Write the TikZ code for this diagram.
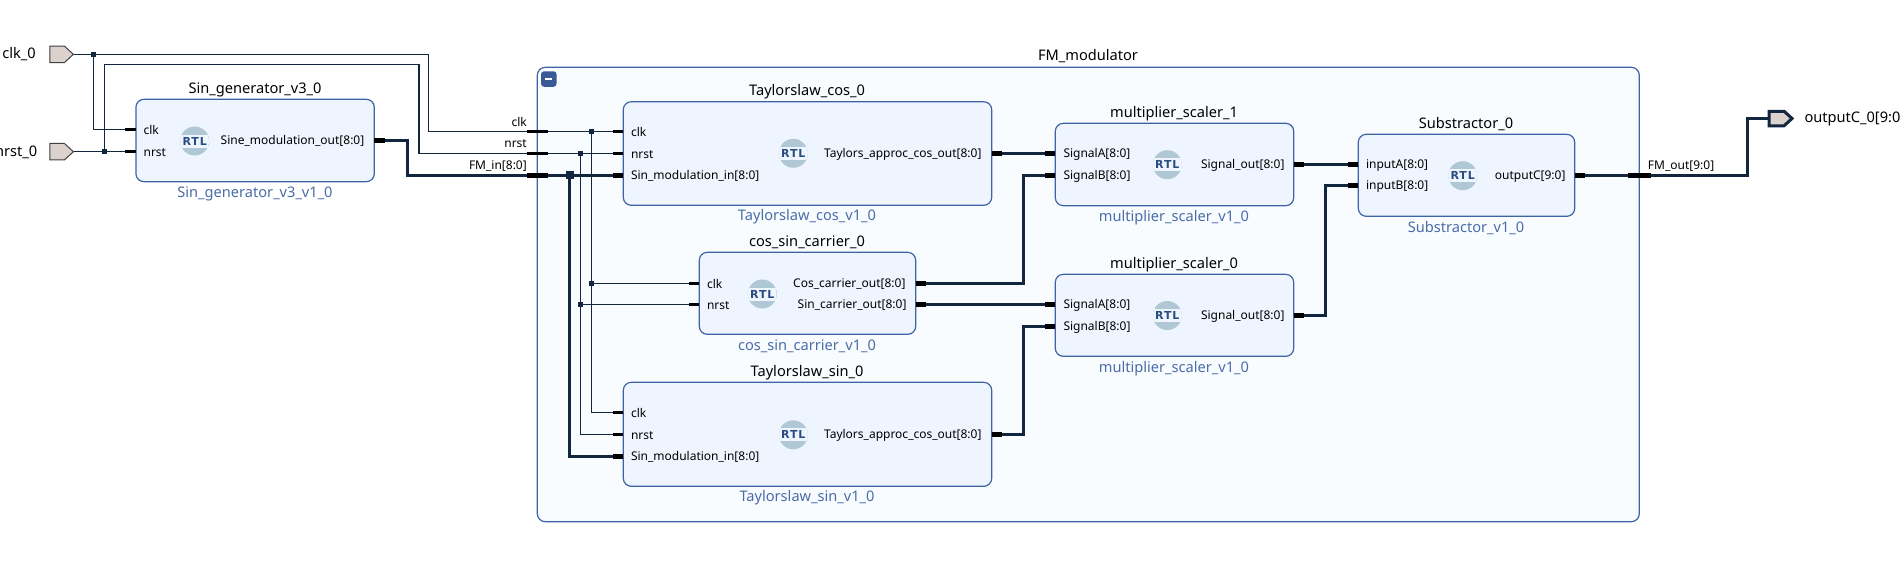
\documentclass[tikz,border=0pt]{standalone}
\usepackage{fontspec}
\setmainfont{Noto Sans}
\newfontfamily\rtlfont[LetterSpace=8]{DejaVu Sans}
\usetikzlibrary{positioning,shapes.symbols}
\definecolor{wirecol}{HTML}{12273F}
\definecolor{edgecol}{HTML}{3F64A6}
\definecolor{blockfill}{HTML}{EEF5FE}
\definecolor{groupfill}{HTML}{F9FCFF}
\definecolor{refcol}{HTML}{4A6CA8}
\definecolor{portfill}{HTML}{DBD2CD}
\definecolor{iconcol}{HTML}{B0C8D5}
\definecolor{icontext}{HTML}{2B4C80}
\tikzset{
	ipblock/.style = {draw=edgecol, fill=blockfill, line width=1.2pt, rounded corners=8pt, inner sep=0pt},
	blocktitle/.style = {font=\fontsize{14.6}{16}\selectfont, text=black, inner sep=0pt, anchor=base},
	blockref/.style = {font=\fontsize{14.6}{16}\selectfont, text=refcol, inner sep=0pt, anchor=base},
	pin/.style = {font=\fontsize{12}{14}\selectfont, text=black, inner sep=0pt, yshift=-1pt},
	wire/.style = {draw=wirecol, line width=1.4pt},
	bus/.style = {draw=wirecol, line width=3.3pt},
	thinstub/.style = {draw=black, line width=3.4pt},
	busstub/.style = {draw=black, line width=5.4pt},
	thindot/.style = {fill=wirecol, inner sep=0pt, minimum size=5.5pt},
	busdot/.style = {fill=wirecol, inner sep=0pt, minimum size=8pt},
	extport/.style = {shape=signal, signal to=east, signal pointer angle=85, draw=black!75, fill=portfill, line width=1pt, inner sep=0pt, minimum width=23.5pt, minimum height=16.5pt, anchor=west},
	rtlicon/.style = {circle, fill=iconcol, minimum size=29pt, inner sep=0pt, text=icontext,
		font=\rtlfont\bfseries\fontsize{11}{13}\selectfont,
		path picture={\fill[blockfill] ([yshift=-6.5pt]path picture bounding box.west) rectangle ([yshift=6.5pt]path picture bounding box.east);}}
}
\begin{document}
\begin{tikzpicture}[x=1pt,y=-1pt]
	\useasboundingbox (0,0) rectangle (1900,563);
	\clip (0,0) rectangle (1900,563);
	\fill[white] (0,0) rectangle (1900,563);

	% group and its button
	\node[draw=edgecol, fill=groupfill, line width=1.2pt, rounded corners=8pt, minimum width=1102pt, minimum height=454.4pt, inner sep=0pt] (fm) at (1088.3,294.5) {};
	\node[blocktitle] (fm_title) at (1088,60.5) {FM\_modulator};
	\node[fill=edgecol!90!black, rounded corners=3pt, minimum width=15.5pt, minimum height=15.5pt, inner sep=0pt] (fm_btn) at (548.8,79) {};
	\node[fill=white, minimum width=7pt, minimum height=2.4pt, inner sep=0pt] (fm_minus) at (fm_btn) {};

	% blocks
	\node[ipblock, minimum width=238.4pt, minimum height=82.4pt] (gen) at (255.1,140.5) {};
	\node[ipblock, minimum width=368.4pt, minimum height=103.6pt] (cos) at (807.5,153.5) {};
	\node[ipblock, minimum width=216.4pt, minimum height=82pt] (car) at (807.5,293.3) {};
	\node[ipblock, minimum width=368.4pt, minimum height=104pt] (sin) at (807.5,434.3) {};
	\node[ipblock, minimum width=238.4pt, minimum height=82.4pt] (mul1) at (1174.5,164.5) {};
	\node[ipblock, minimum width=238.4pt, minimum height=82pt] (mul0) at (1174.5,315.3) {};
	\node[ipblock, minimum width=216.4pt, minimum height=82pt] (sub) at (1466.5,175.3) {};

	\node[blocktitle] (gen_title) at (255,93) {Sin\_generator\_v3\_0};
	\node[blockref] (gen_ref) at (255,197) {Sin\_generator\_v3\_v1\_0};
	\node[blocktitle] (cos_title) at (807,95) {Taylorslaw\_cos\_0};
	\node[blockref] (cos_ref) at (807,220.5) {Taylorslaw\_cos\_v1\_0};
	\node[blocktitle] (car_title) at (807,246) {cos\_sin\_carrier\_0};
	\node[blockref] (car_ref) at (807,350) {cos\_sin\_carrier\_v1\_0};
	\node[blocktitle] (sin_title) at (807,376) {Taylorslaw\_sin\_0};
	\node[blockref] (sin_ref) at (807,501.5) {Taylorslaw\_sin\_v1\_0};
	\node[blocktitle] (mul1_title) at (1174,117) {multiplier\_scaler\_1};
	\node[blockref] (mul1_ref) at (1174,221) {multiplier\_scaler\_v1\_0};
	\node[blocktitle] (mul0_title) at (1174,268) {multiplier\_scaler\_0};
	\node[blockref] (mul0_ref) at (1174,372) {multiplier\_scaler\_v1\_0};
	\node[blocktitle] (sub_title) at (1466,128) {Substractor\_0};
	\node[blockref] (sub_ref) at (1466,232) {Substractor\_v1\_0};

	\node[rtlicon] (gen_rtl) at (194.7,141) {RTL};
	\node[rtlicon] (cos_rtl) at (793.3,153.3) {RTL};
	\node[rtlicon] (car_rtl) at (762.3,294) {RTL};
	\node[rtlicon] (sin_rtl) at (793.3,434.8) {RTL};
	\node[rtlicon] (mul1_rtl) at (1167.3,164.7) {RTL};
	\node[rtlicon] (mul0_rtl) at (1167.3,315.5) {RTL};
	\node[rtlicon] (sub_rtl) at (1462.7,175.7) {RTL};

	% pins on the block edges
	\coordinate (gen_clk) at (135.9,129.3);
	\coordinate (gen_nrst) at (135.9,151.7);
	\coordinate (gen_out) at (374.3,140.3);
	\coordinate (fm_clk) at (537.3,131.3);
	\coordinate (fm_nrst) at (537.3,153.3);
	\coordinate (fm_in) at (537.3,175.3);
	\coordinate (cos_clk) at (623.3,131.3);
	\coordinate (cos_nrst) at (623.3,153.3);
	\coordinate (cos_in) at (623.3,175.3);
	\coordinate (cos_out) at (991.7,153.3);
	\coordinate (car_clk) at (699.3,283.3);
	\coordinate (car_nrst) at (699.3,304.5);
	\coordinate (car_cos) at (915.7,283.3);
	\coordinate (car_sin) at (915.7,304.5);
	\coordinate (sin_clk) at (623.3,412.3);
	\coordinate (sin_nrst) at (623.3,434.3);
	\coordinate (sin_in) at (623.3,456.3);
	\coordinate (sin_out) at (991.7,434.3);
	\coordinate (mul1_a) at (1055.3,153.3);
	\coordinate (mul1_b) at (1055.3,175.3);
	\coordinate (mul1_out) at (1293.7,164.3);
	\coordinate (mul0_a) at (1055.3,304.5);
	\coordinate (mul0_b) at (1055.3,326.3);
	\coordinate (mul0_out) at (1293.7,315.3);
	\coordinate (sub_a) at (1358.3,164.3);
	\coordinate (sub_b) at (1358.3,185.3);
	\coordinate (sub_out) at (1574.7,175.3);
	\coordinate (fm_out) at (1639.3,175.3);

	\node[extport] (clk_port) at (49.4,54.3) {};
	\node[extport] (nrst_port) at (49.4,151.7) {};
	\node[extport, draw=wirecol, line width=3pt, minimum width=23pt, minimum height=14.5pt] (out_port) at (1767.5,118.5) {};
	\node[anchor=east, font=\fontsize{14.6}{16}\selectfont, inner sep=0pt] (clk_name) at (36,54.3) {clk\_0};
	\node[anchor=east, font=\fontsize{14.6}{16}\selectfont, inner sep=0pt] (nrst_name) at (37.5,152.7) {nrst\_0};
	\node[anchor=west, font=\fontsize{14.6}{16}\selectfont, inner sep=0pt] (out_name) at (1804.3,118.5) {outputC\_0[9:0]};

	% junctions
	\node[thindot] (clk_j0) at (93.5,54.3) {};
	\node[thindot] (nrst_j0) at (104.5,151.7) {};
	\node[thindot] (clk_j1) at (591.3,131.3) {};
	\node[thindot] (nrst_j1) at (580.3,153.3) {};
	\node[thindot] (clk_j2) at (591.3,283.3) {};
	\node[thindot] (nrst_j2) at (580.3,304.5) {};
	\node[busdot] (in_j) at (569.7,175.3) {};

	% corners
	\coordinate (clk_t0) at (428.6,54.3);
	\coordinate (clk_t1) at (428.6,131.3);
	\coordinate (nrst_t0) at (104.5,64.3);
	\coordinate (nrst_t1) at (418.8,64.3);
	\coordinate (nrst_t2) at (418.8,153.3);
	\coordinate (clk_t2) at (93.5,129.3);

	% wires
	\draw[wire] (clk_port.east) -- (clk_j0.center) -- (clk_t0) -- (clk_t1) -- (fm_clk) -- (clk_j1.center) -- (cos_clk);
	\draw[wire] (clk_j0.center) -- (clk_t2) -- (gen_clk);
	\draw[wire] (nrst_port.east) -- (nrst_j0.center) -- (gen_nrst);
	\draw[wire] (nrst_j0.center) -- (nrst_t0) -- (nrst_t1) -- (nrst_t2) -- (fm_nrst) -- (nrst_j1.center) -- (cos_nrst);
	\draw[wire] (clk_j1.center) -- (clk_j2.center) -- (clk_j2.center |- sin_clk) -- (sin_clk);
	\draw[wire] (nrst_j1.center) -- (nrst_j2.center) -- (nrst_j2.center |- sin_nrst) -- (sin_nrst);
	\draw[wire] (clk_j2.center) -- (car_clk);
	\draw[wire] (nrst_j2.center) -- (car_nrst);
	\draw[bus, line join=miter] (gen_out) -- (407.3,140.3) -- (407.3,175.3) -- (fm_in) -- (cos_in);
	\draw[bus] (in_j.center) -- (in_j.center |- sin_in) -- (sin_in);
	\draw[bus] (cos_out) -- (mul1_a);
	\draw[bus] (car_cos) -- (1023.3,283.3) -- (1023.3,175.3) -- (mul1_b);
	\draw[bus] (car_sin) -- (mul0_a);
	\draw[bus] (sin_out) -- (1023.3,434.3) -- (1023.3,326.3) -- (mul0_b);
	\draw[bus] (mul1_out) -- (sub_a);
	\draw[bus] (mul0_out) -- (1325.3,315.3) -- (1325.3,185.3) -- (sub_b);
	\draw[bus] (sub_out) -- (fm_out) -- (1747.7,175.3) -- (1747.7,118.5) -- (out_port.west);

	% stubs
	\foreach \p in {gen_clk,gen_nrst,cos_clk,cos_nrst,sin_clk,sin_nrst,car_clk,car_nrst}
		\draw[thinstub] (\p) -- ++(-10.5,0);
	\foreach \p in {cos_in,sin_in,mul1_a,mul1_b,mul0_a,mul0_b,sub_a,sub_b}
		\draw[busstub] (\p) -- ++(-10.5,0);
	\foreach \p in {gen_out,cos_out,sin_out,car_cos,car_sin,mul1_out,mul0_out,sub_out}
		\draw[busstub] (\p) -- ++(10.5,0);
	\foreach \p in {fm_clk,fm_nrst}
		\draw[thinstub] ([xshift=-10.5pt]\p) -- ++(21,0);
	\draw[busstub] ([xshift=-10.5pt]fm_in) -- ++(21,0);
	\draw[busstub] ([xshift=-11pt]fm_out) -- ++(22.4,0);

	% pin names
	\node[pin, right=7.5pt of gen_clk] (gen_clk_txt) {clk};
	\node[pin, right=7.5pt of gen_nrst] (gen_nrst_txt) {nrst};
	\node[pin, left=9.8pt of gen_out] (gen_out_txt) {Sine\_modulation\_out[8:0]};
	\node[pin, anchor=base east] (fm_clk_txt) at (527,125) {clk};
	\node[pin, anchor=base east] (fm_nrst_txt) at (527,146.5) {nrst};
	\node[pin, anchor=base east] (fm_in_txt) at (527,168.5) {FM\_in[8:0]};
	\node[pin, right=7.5pt of cos_clk] (cos_clk_txt) {clk};
	\node[pin, right=7.5pt of cos_nrst] (cos_nrst_txt) {nrst};
	\node[pin, right=7.5pt of cos_in] (cos_in_txt) {Sin\_modulation\_in[8:0]};
	\node[pin, left=10pt of cos_out] (cos_out_txt) {Taylors\_approc\_cos\_out[8:0]};
	\node[pin, right=7.5pt of car_clk] (car_clk_txt) {clk};
	\node[pin, right=7.5pt of car_nrst] (car_nrst_txt) {nrst};
	\node[pin, left=10pt of car_cos] (car_cos_txt) {Cos\_carrier\_out[8:0]};
	\node[pin, left=9pt of car_sin] (car_sin_txt) {Sin\_carrier\_out[8:0]};
	\node[pin, right=7.5pt of sin_clk] (sin_clk_txt) {clk};
	\node[pin, right=7.5pt of sin_nrst] (sin_nrst_txt) {nrst};
	\node[pin, right=7.5pt of sin_in] (sin_in_txt) {Sin\_modulation\_in[8:0]};
	\node[pin, left=10pt of sin_out] (sin_out_txt) {Taylors\_approc\_cos\_out[8:0]};
	\node[pin, right=8pt of mul1_a] (mul1_a_txt) {SignalA[8:0]};
	\node[pin, right=8pt of mul1_b] (mul1_b_txt) {SignalB[8:0]};
	\node[pin, left=9pt of mul1_out] (mul1_out_txt) {Signal\_out[8:0]};
	\node[pin, right=8pt of mul0_a] (mul0_a_txt) {SignalA[8:0]};
	\node[pin, right=8pt of mul0_b] (mul0_b_txt) {SignalB[8:0]};
	\node[pin, left=9pt of mul0_out] (mul0_out_txt) {Signal\_out[8:0]};
	\node[pin, right=7.5pt of sub_a] (sub_a_txt) {inputA[8:0]};
	\node[pin, right=7.5pt of sub_b] (sub_b_txt) {inputB[8:0]};
	\node[pin, left=9pt of sub_out] (sub_out_txt) {outputC[9:0]};
	\node[pin, anchor=base west] (fm_out_txt) at (1647.7,168.5) {FM\_out[9:0]};
\end{tikzpicture}
\end{document}
